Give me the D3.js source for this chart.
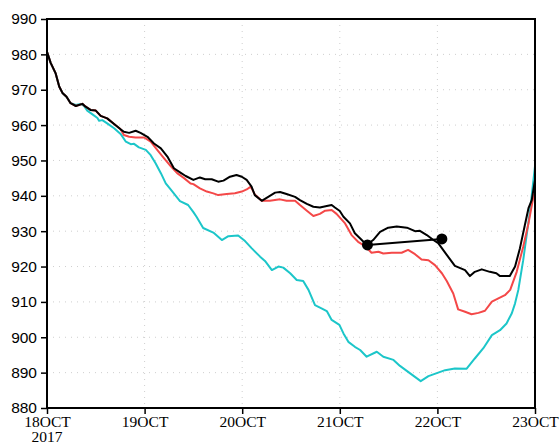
<!DOCTYPE html>
<html>
<head>
<meta charset="utf-8">
<script src="https://cdn.jsdelivr.net/npm/d3@7"></script>
<style>
  body { margin: 0; background: #fff; }
  svg { display: block; }
</style>
</head>
<body>
<script>
// Chart size and margins
const w = 559;
const h = 444;
const margin = {top: 19, right: 24, bottom: 36, left: 47};

// Pressure ticks (hPa) and time ticks (hours after 18OCT 00Z)
const pTicks = [880, 890, 900, 910, 920, 930, 940, 950, 960, 970, 980, 990];
const tTicks = [0, 24, 48, 72, 96, 120];
const tLabels = ["18OCT", "19OCT", "20OCT", "21OCT", "22OCT", "23OCT"];
const yearLabel = "2017";

// Black track: [hour, hPa]
const blackTrack = [
  [0, 980.7], [0.9, 977.6], [2.1, 974.7], [3.0, 970.9], [3.8, 969.1], [4.8, 968.0],
  [5.8, 966.2], [7.1, 965.4], [8.7, 966.0], [9.5, 965.2], [10.7, 964.3], [12.0, 964.1],
  [13.2, 962.6], [14.8, 961.9], [16.5, 960.3], [18.1, 958.8], [18.9, 958.1], [20.2, 957.8],
  [21.8, 958.4], [23.0, 957.8], [24.7, 956.7], [26.3, 954.8], [28.0, 953.4], [29.6, 951.1],
  [31.2, 947.8], [32.9, 946.5], [34.1, 945.6], [36.0, 944.5], [37.6, 945.2], [38.9, 944.7],
  [40.5, 944.7], [42.1, 944.0], [43.4, 944.3], [45.0, 945.4], [46.6, 945.9], [47.9, 945.4],
  [49.1, 944.5], [50.3, 942.6], [51.1, 940.2], [52.8, 938.6], [54.4, 939.7], [56.1, 940.9],
  [57.3, 941.1], [58.9, 940.5], [61.0, 939.7], [62.2, 938.8], [63.9, 937.7], [65.5, 936.9],
  [67.1, 936.7], [68.8, 937.1], [70.0, 937.4], [70.8, 936.7], [72.0, 935.7], [72.9, 934.1],
  [74.5, 932.2], [75.7, 929.4], [77.4, 927.5], [78.6, 926.1], [80.2, 927.5], [81.9, 929.8],
  [83.9, 931.0], [86.0, 931.3], [88.5, 931.0], [90.5, 930.0], [91.7, 930.1], [93.4, 928.9],
  [95.0, 927.5], [96.2, 926.6], [98.3, 923.3], [100.3, 920.2], [102.8, 919.0], [104.0, 917.3],
  [105.2, 918.5], [106.9, 919.2], [108.9, 918.5], [110.5, 918.1], [111.4, 917.3], [113.8, 917.3],
  [115.1, 920.0], [116.3, 925.2], [117.5, 931.7], [118.4, 936.5], [119.2, 938.8], [120.0, 944.5]
];

// Red track: [hour, hPa]
const redTrack = [
  [0, 980.7], [0.9, 977.6], [2.1, 974.7], [3.0, 970.9], [3.8, 969.1], [4.8, 968.0],
  [5.8, 966.2], [7.1, 965.4], [8.7, 966.0], [9.5, 965.2], [10.7, 964.3], [12.0, 964.1],
  [13.2, 962.6], [14.8, 961.9], [16.5, 960.3], [18.1, 958.8], [18.9, 957.2], [20.2, 956.7],
  [21.8, 956.5], [23.9, 956.5], [25.5, 955.3], [27.1, 953.0], [28.8, 950.6], [30.4, 948.4],
  [32.0, 946.4], [33.7, 945.0], [35.3, 943.5], [36.0, 943.3], [37.6, 942.1], [39.3, 941.2],
  [40.9, 940.7], [42.1, 940.2], [44.2, 940.5], [46.2, 940.7], [47.9, 941.2], [49.1, 941.8],
  [50.1, 942.6], [51.1, 940.4], [52.8, 938.6], [54.8, 938.6], [57.3, 939.0], [58.9, 938.6],
  [61.0, 938.6], [62.2, 937.4], [63.9, 935.8], [65.5, 934.3], [67.1, 934.9], [68.4, 935.8],
  [70.0, 936.0], [71.2, 934.9], [73.3, 932.2], [74.9, 928.9], [76.5, 927.0], [78.2, 925.8],
  [79.8, 923.9], [81.5, 924.2], [82.7, 923.7], [84.8, 923.9], [87.2, 923.9], [88.8, 924.7],
  [90.5, 923.5], [92.1, 922.0], [93.8, 921.8], [95.4, 920.4], [97.1, 918.1], [98.3, 915.9],
  [99.9, 912.4], [101.1, 907.9], [102.8, 907.2], [104.4, 906.5], [106.1, 906.9], [107.7, 907.5],
  [109.4, 910.1], [111.0, 911.0], [112.6, 911.9], [113.9, 913.4], [115.5, 918.5], [117.1, 925.6],
  [118.4, 932.2], [119.6, 939.7], [120.0, 941.1]
];

// Cyan track: [hour, hPa]
const cyanTrack = [
  [0, 980.7], [0.9, 977.6], [2.1, 974.7], [3.0, 970.9], [3.8, 969.1], [4.8, 968.0],
  [5.8, 966.2], [7.1, 965.7], [8.3, 966.0], [9.1, 965.4], [9.9, 964.1], [11.1, 963.1],
  [12.4, 962.0], [12.8, 961.2], [13.6, 961.4], [14.8, 960.5], [16.5, 959.1], [18.1, 957.5],
  [19.4, 955.3], [20.6, 954.6], [21.4, 954.7], [22.6, 953.7], [24.3, 953.0], [25.5, 951.5],
  [26.7, 949.2], [28.0, 946.4], [29.2, 943.5], [30.4, 941.8], [32.7, 938.5], [34.7, 937.4],
  [36.0, 935.4], [36.8, 934.0], [38.4, 930.9], [40.9, 929.6], [43.0, 927.5], [44.6, 928.6],
  [47.0, 928.8], [48.7, 927.2], [50.3, 925.2], [52.4, 922.8], [53.6, 921.6], [55.3, 919.0],
  [56.9, 920.0], [58.1, 919.7], [59.8, 918.1], [61.4, 916.2], [63.0, 915.9], [64.3, 913.4],
  [65.9, 909.1], [67.5, 908.2], [68.8, 907.4], [70.0, 904.9], [71.9, 903.5], [72.9, 901.1],
  [74.1, 898.7], [75.7, 897.3], [77.0, 896.4], [78.6, 894.5], [81.1, 895.9], [82.7, 894.5],
  [85.2, 893.6], [86.8, 891.9], [89.3, 889.8], [91.9, 887.6], [93.8, 889.0], [96.2, 890.0],
  [97.9, 890.7], [100.3, 891.2], [103.2, 891.1], [105.2, 894.0], [107.3, 896.9], [109.4, 900.6],
  [111.4, 902.0], [113.0, 903.9], [114.3, 906.8], [115.1, 909.6], [115.9, 913.4], [117.1, 921.8],
  [118.8, 936.0], [120.0, 948.4]
];

// Two black markers joined by a line: [hour, hPa]
const markerPoints = [[78.8, 926.1], [97.1, 927.8]];

const svg = d3.select('body')
  .append('svg')
  .attr('width', w)
  .attr('height', h);

// Scales
const xScale = d3.scaleLinear()
  .domain([0, 120])
  .range([margin.left, w - margin.right]);

const yScale = d3.scaleLinear()
  .domain([880, 990])
  .range([h - margin.bottom, margin.top]);

// Dotted grid lines
const grid = svg.append('g').attr('stroke', '#cfcfcf').attr('stroke-width', 1).attr('stroke-dasharray', '1,5');
grid.selectAll('.gy')
  .data(pTicks.slice(1, -1))
  .enter()
  .append('line')
  .attr('x1', margin.left)
  .attr('x2', w - margin.right)
  .attr('y1', (d) => yScale(d))
  .attr('y2', (d) => yScale(d));
grid.selectAll('.gx')
  .data(tTicks.slice(1, -1))
  .enter()
  .append('line')
  .attr('x1', (d) => xScale(d))
  .attr('x2', (d) => xScale(d))
  .attr('y1', margin.top)
  .attr('y2', h - margin.bottom);

// Lines
const line = d3.line()
  .x((d) => xScale(d[0]))
  .y((d) => yScale(d[1]));

const series = [
  {data: cyanTrack, color: '#1cc6c9'},
  {data: redTrack, color: '#f44848'},
  {data: blackTrack, color: '#000'}
];

series.forEach((s) => {
  svg.append('path')
    .datum(s.data)
    .attr('fill', 'none')
    .attr('stroke', s.color)
    .attr('stroke-width', 2)
    .attr('stroke-linejoin', 'round')
    .attr('d', line);
});

// Markers
svg.append('path')
  .datum(markerPoints)
  .attr('fill', 'none')
  .attr('stroke', '#000')
  .attr('stroke-width', 2)
  .attr('d', line);

svg.selectAll('.marker')
  .data(markerPoints)
  .enter()
  .append('circle')
  .attr('cx', (d) => xScale(d[0]))
  .attr('cy', (d) => yScale(d[1]))
  .attr('r', 5.5)
  .attr('fill', '#000');

// Axes
const yAxis = d3.axisLeft(yScale)
  .tickValues(pTicks)
  .tickSize(6)
  .tickPadding(4)
  .tickFormat(d3.format('d'));

const xAxis = d3.axisBottom(xScale)
  .tickValues(tTicks)
  .tickSize(6)
  .tickPadding(2)
  .tickFormat((d, i) => tLabels[i]);

const gy = svg.append('g')
  .attr('transform', 'translate(' + margin.left + ',0)')
  .call(yAxis);
gy.select('.domain').remove();
gy.selectAll('line').attr('stroke-width', 1.5);
gy.selectAll('text')
  .attr('font-family', 'Liberation Sans, Arial, sans-serif')
  .attr('font-size', 15.5)
  .attr('fill', '#000');

const gx = svg.append('g')
  .attr('transform', 'translate(0,' + (h - margin.bottom) + ')')
  .call(xAxis);
gx.select('.domain').remove();
gx.selectAll('line').attr('stroke-width', 1.5);
gx.selectAll('text')
  .attr('font-family', 'Liberation Serif, Times New Roman, serif')
  .attr('font-size', 15.5)
  .attr('fill', '#000');

svg.append('text')
  .attr('x', xScale(0))
  .attr('y', h - 2)
  .attr('text-anchor', 'middle')
  .attr('font-family', 'Liberation Serif, Times New Roman, serif')
  .attr('font-size', 15.5)
  .text(yearLabel);

// Frame
svg.append('rect')
  .attr('x', margin.left)
  .attr('y', margin.top)
  .attr('width', w - margin.left - margin.right)
  .attr('height', h - margin.top - margin.bottom)
  .attr('fill', 'none')
  .attr('stroke', '#000')
  .attr('stroke-width', 2);
</script>
</body>
</html>
